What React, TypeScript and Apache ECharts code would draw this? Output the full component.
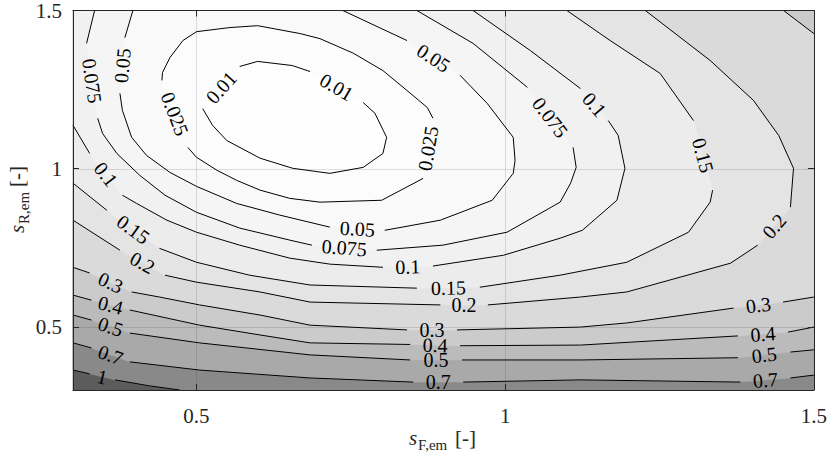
import React, { useEffect, useRef } from "react";
import * as echarts from "echarts";

type P = [number, number];
type Seg = P[];

const X_RANGE: P = [0.3, 1.5];
const Y_RANGE: P = [0.3, 1.5];
const X_TICKS = [0.5, 1, 1.5];
const Y_TICKS = [0.5, 1, 1.5];
const GRID_X = [0.5, 1];
const GRID_Y = [0.5, 1];

const LEVELS = [0.01, 0.025, 0.05, 0.075, 0.1, 0.15, 0.2, 0.3, 0.4, 0.5, 0.7, 1];
const LEVEL_LABELS = ["0.01", "0.025", "0.05", "0.075", "0.1", "0.15", "0.2", "0.3", "0.4", "0.5", "0.7", "1"];

// Contour lines; each array of segments, gaps between segments hold the labels.
const C_001: Seg[] = [
  [[0.570, 1.323], [0.599, 1.339], [0.655, 1.326], [0.684, 1.307]],
  [[0.770, 1.209], [0.789, 1.175], [0.808, 1.099], [0.802, 1.048], [0.770, 1.004], [0.716, 0.985], [0.656, 1.001], [0.603, 1.033], [0.549, 1.089], [0.526, 1.137], [0.510, 1.190]],
];
const C_0025: Seg[] = [
  [[0.444, 1.279], [0.445, 1.304], [0.457, 1.351], [0.478, 1.405], [0.500, 1.433], [0.554, 1.446], [0.599, 1.452], [0.668, 1.427], [0.700, 1.411], [0.754, 1.365], [0.802, 1.310], [0.841, 1.247], [0.874, 1.193], [0.883, 1.159]],
  [[0.867, 0.969], [0.800, 0.900], [0.700, 0.894], [0.651, 0.906], [0.603, 0.932], [0.565, 0.963], [0.533, 0.995], [0.500, 1.036], [0.486, 1.067]],
];
const C_005: Seg[] = [
  [[0.397, 1.500], [0.384, 1.414]],
  [[0.376, 1.238], [0.380, 1.184], [0.395, 1.099], [0.419, 1.042], [0.457, 0.988], [0.500, 0.944], [0.565, 0.890], [0.635, 0.853], [0.716, 0.815]],
  [[0.805, 0.805], [0.895, 0.837], [0.979, 0.900], [1.013, 0.985], [1.016, 1.026], [1.013, 1.099], [0.971, 1.206], [0.927, 1.295]],
  [[0.841, 1.405], [0.737, 1.500]],
];
const C_0075: Seg[] = [
  [[0.335, 1.500], [0.322, 1.396]],
  [[0.340, 1.159], [0.348, 1.111], [0.371, 1.048], [0.408, 0.979], [0.449, 0.916], [0.500, 0.862], [0.570, 0.812], [0.651, 0.774], [0.687, 0.758]],
  [[0.792, 0.742], [0.899, 0.758], [1.003, 0.799], [1.089, 0.894], [1.106, 0.954], [1.115, 1.004], [1.110, 1.067]],
  [[1.036, 1.257], [0.948, 1.396], [0.857, 1.500]],
];
const C_01: Seg[] = [
  [[0.948, 1.500], [1.041, 1.373], [1.122, 1.253]],
  [[1.167, 1.152], [1.183, 1.105], [1.194, 1.001], [1.181, 0.900], [1.125, 0.805], [1.089, 0.780], [0.997, 0.726], [0.883, 0.692]],
  [[0.802, 0.688], [0.716, 0.698], [0.651, 0.717], [0.570, 0.758], [0.500, 0.799], [0.452, 0.837], [0.403, 0.890], [0.380, 0.916]],
  [[0.327, 1.048], [0.300, 1.137]],
];
const C_015: Seg[] = [
  [[1.100, 1.500], [1.170, 1.405], [1.251, 1.301], [1.305, 1.152]],
  [[1.336, 0.932], [1.332, 0.894], [1.297, 0.799], [1.197, 0.704], [1.089, 0.663], [0.959, 0.625]],
  [[0.857, 0.622], [0.684, 0.632], [0.586, 0.663], [0.500, 0.704], [0.440, 0.748]],
  [[0.355, 0.868], [0.300, 0.954]],
];
const C_02: Seg[] = [
  [[0.300, 0.837], [0.376, 0.742]],
  [[0.449, 0.663], [0.500, 0.641], [0.603, 0.610], [0.684, 0.578], [0.895, 0.569]],
  [[0.972, 0.569], [1.122, 0.594], [1.197, 0.610], [1.365, 0.701], [1.409, 0.758]],
  [[1.462, 0.878], [1.467, 1.001], [1.443, 1.105], [1.402, 1.216], [1.332, 1.342], [1.227, 1.500]],
];
const C_03_LOW: Seg[] = [
  [[0.300, 0.688], [0.327, 0.670]],
  [[0.395, 0.610], [0.440, 0.594], [0.505, 0.569], [0.603, 0.537], [0.684, 0.505], [0.841, 0.490]],
  [[0.922, 0.490], [1.122, 0.499], [1.197, 0.512], [1.370, 0.559]],
  [[1.450, 0.578], [1.500, 0.594]],
];
const C_03_TOP: Seg[] = [
  [[1.500, 1.427], [1.451, 1.500]],
];
const C_04: Seg[] = [
  [[0.300, 0.600], [0.330, 0.584]],
  [[0.392, 0.553], [0.505, 0.505], [0.603, 0.474], [0.684, 0.449], [0.846, 0.444]],
  [[0.927, 0.440], [1.122, 0.442], [1.377, 0.471]],
  [[1.458, 0.483], [1.500, 0.499]],
];
const C_05: Seg[] = [
  [[0.300, 0.537], [0.330, 0.521]],
  [[0.392, 0.480], [0.505, 0.449], [0.684, 0.411], [0.846, 0.395]],
  [[0.930, 0.395], [1.122, 0.395], [1.377, 0.402]],
  [[1.462, 0.420], [1.500, 0.427]],
];
const C_07: Seg[] = [
  [[0.300, 0.449], [0.330, 0.433]],
  [[0.392, 0.389], [0.505, 0.363], [0.684, 0.338], [0.851, 0.325]],
  [[0.932, 0.325], [1.122, 0.332], [1.381, 0.325]],
  [[1.462, 0.338], [1.500, 0.347]],
];
const C_1: Seg[] = [
  [[0.300, 0.363], [0.327, 0.351]],
  [[0.368, 0.332], [0.424, 0.313], [0.473, 0.300]],
];

const CONTOURS: { pieces: Seg[][]; closed: boolean }[] = [
  { pieces: [C_001], closed: true },
  { pieces: [C_0025], closed: true },
  { pieces: [C_005], closed: false },
  { pieces: [C_0075], closed: false },
  { pieces: [C_01], closed: false },
  { pieces: [C_015], closed: false },
  { pieces: [C_02], closed: false },
  { pieces: [C_03_LOW, C_03_TOP], closed: false },
  { pieces: [C_04], closed: false },
  { pieces: [C_05], closed: false },
  { pieces: [C_07], closed: false },
  { pieces: [C_1], closed: false },
];

// plot-box corners that close the "below level" region of each open contour
const TL: P = [X_RANGE[0], Y_RANGE[1]];
const TR: P = [X_RANGE[1], Y_RANGE[1]];
const BR: P = [X_RANGE[1], Y_RANGE[0]];
const BL: P = [X_RANGE[0], Y_RANGE[0]];
const REGION_CORNERS: P[][] = [[], [], [], [], [TL], [TL], [TL], [TL], [TR, TL], [TR, TL], [TR, TL], [BR, TR, TL]];

const FILL_COLORS = ["#fefefe", "#fcfcfc", "#f9f9f9", "#f5f5f5", "#f1f1f1", "#ececec", "#e4e4e4", "#dadada", "#cbcbcb", "#bbbbbb", "#a9a9a9", "#898989"];
const OVER_COLOR = "#5c5c5c";

const FONT = "Liberation Serif";
const AX = "#262626";

function fillRender(params: any, api: any) {
  const k = api.value(2) as number;
  let pts: P[];
  let color: string;
  if (k < 0) {
    pts = [BL, BR, TR, TL];
    color = OVER_COLOR;
  } else {
    pts = (CONTOURS[k].pieces as any).flat(2).concat(REGION_CORNERS[k]);
    color = FILL_COLORS[k];
  }
  return {
    type: "polygon",
    shape: { points: pts.map((p) => api.coord(p)) },
    style: { fill: color, stroke: color, lineWidth: 0.6 },
  };
}

function gridRender(params: any, api: any) {
  const children: any[] = [];
  const st = { stroke: "rgba(38,38,38,0.15)", lineWidth: 1 };
  GRID_X.forEach((x) => {
    const a = api.coord([x, Y_RANGE[0]]);
    const b = api.coord([x, Y_RANGE[1]]);
    const xx = Math.round(a[0]) + 0.5;
    children.push({ type: "line", shape: { x1: xx, y1: a[1], x2: xx, y2: b[1] }, style: st });
  });
  GRID_Y.forEach((y) => {
    const a = api.coord([X_RANGE[0], y]);
    const b = api.coord([X_RANGE[1], y]);
    const yy = Math.round(a[1]) + 0.5;
    children.push({ type: "line", shape: { x1: a[0], y1: yy, x2: b[0], y2: yy }, style: st });
  });
  return { type: "group", children };
}

function labelEl(a: number[], b: number[], text: string) {
  const mx = (a[0] + b[0]) / 2;
  const my = (a[1] + b[1]) / 2;
  let ang = Math.atan2(b[1] - a[1], b[0] - a[0]);
  if (ang > Math.PI / 2) ang -= Math.PI;
  if (ang < -Math.PI / 2) ang += Math.PI;
  return {
    type: "text",
    x: mx,
    y: my,
    rotation: -ang,
    style: {
      text,
      fontSize: 20,
      lineHeight: 15,
      fontFamily: FONT,
      fill: "#000",
      align: "center",
      verticalAlign: "middle",
    },
  };
}

function lineRender(params: any, api: any) {
  const k = api.value(2) as number;
  const c = CONTOURS[k];
  const children: any[] = [];
  c.pieces.forEach((segs) => {
    const px = segs.map((s) => s.map((p) => api.coord(p)));
    px.forEach((pts) => {
      children.push({ type: "polyline", shape: { points: pts }, style: { stroke: "#000", lineWidth: 1, fill: null } });
    });
    for (let j = 0; j < px.length - 1; j++) {
      children.push(labelEl(px[j][px[j].length - 1], px[j + 1][0], LEVEL_LABELS[k]));
    }
    if (c.closed) {
      const last = px[px.length - 1];
      children.push(labelEl(last[last.length - 1], px[0][0], LEVEL_LABELS[k]));
    }
  });
  return { type: "group", children };
}

function makeXAxis(pos: "bottom" | "top") {
  return {
    type: "value",
    position: pos,
    min: X_RANGE[0],
    max: X_RANGE[1],
    z: 10,
    axisLine: { show: true, onZero: false, lineStyle: { color: AX, width: 1 } },
    axisTick: { show: true, inside: true, length: 6, customValues: X_TICKS, lineStyle: { color: AX, width: 1 } },
    axisLabel: {
      show: pos === "bottom",
      customValues: X_TICKS,
      margin: 15,
      fontSize: 21,
      fontFamily: FONT,
      color: AX,
    },
    splitLine: { show: false },
  };
}

function makeYAxis(pos: "left" | "right") {
  return {
    type: "value",
    position: pos,
    min: Y_RANGE[0],
    max: Y_RANGE[1],
    z: 10,
    axisLine: { show: true, onZero: false, lineStyle: { color: AX, width: 1 } },
    axisTick: { show: true, inside: true, length: 6, customValues: Y_TICKS, lineStyle: { color: AX, width: 1 } },
    axisLabel: {
      show: pos === "left",
      customValues: Y_TICKS,
      margin: 11,
      fontSize: 21,
      fontFamily: FONT,
      color: AX,
    },
    splitLine: { show: false },
  };
}

const fillData = [[0.9, 0.9, -1], ...LEVELS.map((_, i) => [0.9, 0.9, LEVELS.length - 1 - i])];
const lineData = LEVELS.map((_, i) => [0.9, 0.9, i]);

const nameText = (text: string, x: number, y: number, size: number, italic: boolean) => ({
  type: "text",
  x,
  y,
  style: {
    text,
    fontSize: size,
    fontStyle: italic ? "italic" : "normal",
    fontFamily: FONT,
    fill: AX,
    align: "left",
    verticalAlign: "middle",
  },
});

const option: any = {
  animation: false,
  backgroundColor: "#ffffff",
  textStyle: { fontFamily: FONT },
  grid: { left: 73, right: 16, top: 9, bottom: 70 },
  xAxis: [makeXAxis("bottom"), makeXAxis("top")],
  yAxis: [makeYAxis("left"), makeYAxis("right")],
  series: [
    { type: "custom", silent: true, z: 1, data: fillData, encode: { x: 0, y: 1 }, renderItem: fillRender },
    { type: "custom", silent: true, z: 2, data: [[0.9, 0.9, 0]], encode: { x: 0, y: 1 }, renderItem: gridRender },
    { type: "custom", silent: true, z: 3, data: lineData, encode: { x: 0, y: 1 }, renderItem: lineRender },
  ],
  graphic: [
    {
      type: "group",
      x: 0,
      y: 0,
      children: [
        nameText("s", 409, 438, 21, true),
        nameText("F,em", 418, 445, 15, false),
        nameText("[-]", 455, 438, 21, false),
      ],
    },
    {
      type: "group",
      x: 17,
      y: 200,
      rotation: Math.PI / 2,
      children: [
        nameText("s", -33, 0, 21, true),
        nameText("R,em", -24, 7, 15, false),
        nameText("[-]", 13, 0, 21, false),
      ],
    },
  ],
};

export default function App() {
  const ref = useRef<HTMLDivElement>(null);
  useEffect(() => {
    const chart = echarts.init(ref.current as HTMLDivElement, null, { renderer: "svg" });
    chart.setOption(option);
    return () => chart.dispose();
  }, []);
  return (
    <div
      ref={ref}
      style={{ position: "fixed", left: 0, top: 0, width: 830, height: 460, background: "#fff" }}
    />
  );
}
